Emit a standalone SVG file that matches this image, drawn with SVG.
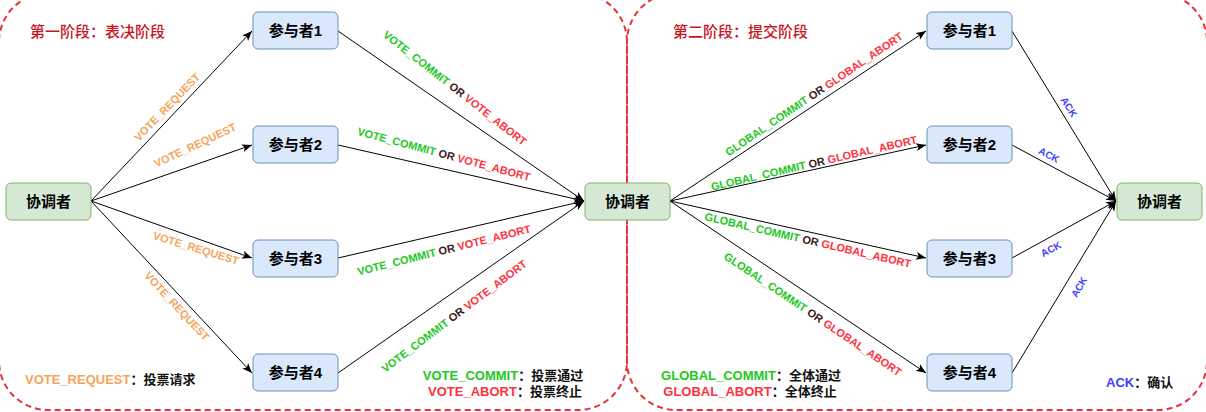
<svg xmlns="http://www.w3.org/2000/svg" width="1206" height="412" viewBox="0 0 1206 412">
<defs>
<marker id="arr" markerUnits="userSpaceOnUse" markerWidth="12" markerHeight="10" refX="10" refY="4" orient="auto">
<path d="M0,0 L10,4 L0,8 L2.5,4 z" fill="#000"/>
</marker>
<style>
.frame{fill:none;stroke:#e5323c;stroke-width:2;stroke-dasharray:6 4;}
.p{fill:#dae8fc;stroke:#6c8ebf;stroke-width:1;}
.c{fill:#d5e8d4;stroke:#82b366;stroke-width:1;}
.nt{font-family:'Liberation Sans',Arial,'Noto Sans CJK SC',sans-serif;font-size:15px;font-weight:bold;fill:#000;text-anchor:middle;dominant-baseline:central;}
.title{font-family:'Noto Sans CJK SC','Liberation Sans',sans-serif;font-size:15px;font-weight:500;fill:#c8141e;}
.e{fill:none;stroke:#000;stroke-width:1;marker-end:url(#arr);}
.lb{font-family:'Liberation Sans',Arial,sans-serif;font-size:11px;font-weight:bold;text-anchor:middle;dominant-baseline:central;}
.ack{font-family:'Liberation Sans',Arial,sans-serif;font-size:10px;font-weight:bold;text-anchor:middle;dominant-baseline:central;fill:#4040ff;}
.lg{font-family:'Liberation Sans',Arial,'Noto Sans CJK SC',sans-serif;font-size:13px;font-weight:bold;}
.or{fill:#3a1a1a;}
.g{fill:#22c822;}
.r{fill:#ff3340;}
.o{fill:#f5a55a;}
.b{fill:#4040ff;}
.k{fill:#111;}
</style>
</defs>
<rect width="1206" height="412" fill="#fff"/>
<g id="phase1-frame"><rect class="frame" x="-1" y="-7" width="628" height="417" rx="49"/></g>
<g id="phase2-frame"><rect class="frame" x="627" y="-7" width="580" height="417" rx="49"/></g>
<text class="title" x="30" y="37">第一阶段：表决阶段</text>
<text class="title" x="673" y="37">第二阶段：提交阶段</text>
<g id="connectors">
<line class="e" x1="91" y1="201" x2="252" y2="31"/>
<line class="e" x1="91" y1="201" x2="252" y2="145"/>
<line class="e" x1="91" y1="201" x2="252" y2="258"/>
<line class="e" x1="91" y1="201" x2="252" y2="373"/>
<line class="e" x1="338" y1="31" x2="584" y2="201"/>
<line class="e" x1="338" y1="145" x2="584" y2="201"/>
<line class="e" x1="338" y1="258" x2="584" y2="201"/>
<line class="e" x1="338" y1="373" x2="584" y2="201"/>
<line class="e" x1="670" y1="201" x2="926" y2="31"/>
<line class="e" x1="670" y1="201" x2="926" y2="145"/>
<line class="e" x1="670" y1="201" x2="926" y2="258"/>
<line class="e" x1="670" y1="201" x2="926" y2="373"/>
<line class="e" x1="1012" y1="31" x2="1116" y2="201"/>
<line class="e" x1="1012" y1="145" x2="1116" y2="201"/>
<line class="e" x1="1012" y1="258" x2="1116" y2="201"/>
<line class="e" x1="1012" y1="373" x2="1116" y2="201"/>
<text class="lb o" transform="translate(167,107) rotate(-46)">VOTE_REQUEST</text>
<text class="lb o" transform="translate(195,145) rotate(-25)">VOTE_REQUEST</text>
<text class="lb o" transform="translate(196,248) rotate(17)">VOTE_REQUEST</text>
<text class="lb o" transform="translate(177,306) rotate(47)">VOTE_REQUEST</text>
<text class="lb" transform="translate(455,88) rotate(38)"><tspan class="g">VOTE_COMMIT</tspan><tspan class="or"> OR </tspan><tspan class="r">VOTE_ABORT</tspan></text>
<text class="lb" transform="translate(444,154) rotate(15)"><tspan class="g">VOTE_COMMIT</tspan><tspan class="or"> OR </tspan><tspan class="r">VOTE_ABORT</tspan></text>
<text class="lb" transform="translate(444,250) rotate(-14)"><tspan class="g">VOTE_COMMIT</tspan><tspan class="or"> OR </tspan><tspan class="r">VOTE_ABORT</tspan></text>
<text class="lb" transform="translate(454,316) rotate(-37)"><tspan class="g">VOTE_COMMIT</tspan><tspan class="or"> OR </tspan><tspan class="r">VOTE_ABORT</tspan></text>
<text class="lb" transform="translate(814,94) rotate(-34)"><tspan class="g">GLOBAL_COMMIT</tspan><tspan class="or"> OR </tspan><tspan class="r">GLOBAL_ABORT</tspan></text>
<text class="lb" transform="translate(814,163) rotate(-13)"><tspan class="g">GLOBAL_COMMIT</tspan><tspan class="or"> OR </tspan><tspan class="r">GLOBAL_ABORT</tspan></text>
<text class="lb" transform="translate(808,240) rotate(13)"><tspan class="g">GLOBAL_COMMIT</tspan><tspan class="or"> OR </tspan><tspan class="r">GLOBAL_ABORT</tspan></text>
<text class="lb" transform="translate(813,314) rotate(34)"><tspan class="g">GLOBAL_COMMIT</tspan><tspan class="or"> OR </tspan><tspan class="r">GLOBAL_ABORT</tspan></text>
<text class="ack" transform="translate(1069,107) rotate(58)">ACK</text>
<text class="ack" transform="translate(1049,155) rotate(28)">ACK</text>
<text class="ack" transform="translate(1051,249) rotate(-28)">ACK</text>
<text class="ack" transform="translate(1079,287) rotate(-59)">ACK</text>
</g>
<g id="coord-left"><rect class="c" x="6" y="183" width="85" height="37" rx="5"/><text class="nt" x="48.5" y="201.5">协调者</text></g>
<g id="p1-left"><rect class="p" x="253" y="12" width="85" height="37" rx="5"/><text class="nt" x="295.5" y="30.5">参与者1</text></g>
<g id="p2-left"><rect class="p" x="253" y="126" width="85" height="37" rx="5"/><text class="nt" x="295.5" y="144.5">参与者2</text></g>
<g id="p3-left"><rect class="p" x="253" y="240" width="85" height="37" rx="5"/><text class="nt" x="295.5" y="258.5">参与者3</text></g>
<g id="p4-left"><rect class="p" x="253" y="354" width="85" height="37" rx="5"/><text class="nt" x="295.5" y="372.5">参与者4</text></g>
<g id="coord-mid"><rect class="c" x="585" y="183" width="85" height="37" rx="5"/><text class="nt" x="627.5" y="201.5">协调者</text></g>
<g id="p1-right"><rect class="p" x="927" y="12" width="85" height="37" rx="5"/><text class="nt" x="969.5" y="30.5">参与者1</text></g>
<g id="p2-right"><rect class="p" x="927" y="126" width="85" height="37" rx="5"/><text class="nt" x="969.5" y="144.5">参与者2</text></g>
<g id="p3-right"><rect class="p" x="927" y="240" width="85" height="37" rx="5"/><text class="nt" x="969.5" y="258.5">参与者3</text></g>
<g id="p4-right"><rect class="p" x="927" y="354" width="85" height="37" rx="5"/><text class="nt" x="969.5" y="372.5">参与者4</text></g>
<g id="coord-right"><rect class="c" x="1117" y="183" width="85" height="37" rx="5"/><text class="nt" x="1159.5" y="201.5">协调者</text></g>
<g id="legends">
<text class="lg" x="25" y="384"><tspan class="o">VOTE_REQUEST</tspan><tspan class="k">：投票请求</tspan></text>
<text class="lg" x="503" y="380" text-anchor="middle"><tspan class="g">VOTE_COMMIT</tspan><tspan class="k">：投票通过</tspan></text>
<text class="lg" x="505" y="396" text-anchor="middle"><tspan class="r">VOTE_ABORT</tspan><tspan class="k">：投票终止</tspan></text>
<text class="lg" x="751" y="380" text-anchor="middle"><tspan class="g">GLOBAL_COMMIT</tspan><tspan class="k">：全体通过</tspan></text>
<text class="lg" x="750" y="396" text-anchor="middle"><tspan class="r">GLOBAL_ABORT</tspan><tspan class="k">：全体终止</tspan></text>
<text class="lg" x="1106" y="387"><tspan class="b">ACK</tspan><tspan class="k">：确认</tspan></text>
</g>
</svg>
